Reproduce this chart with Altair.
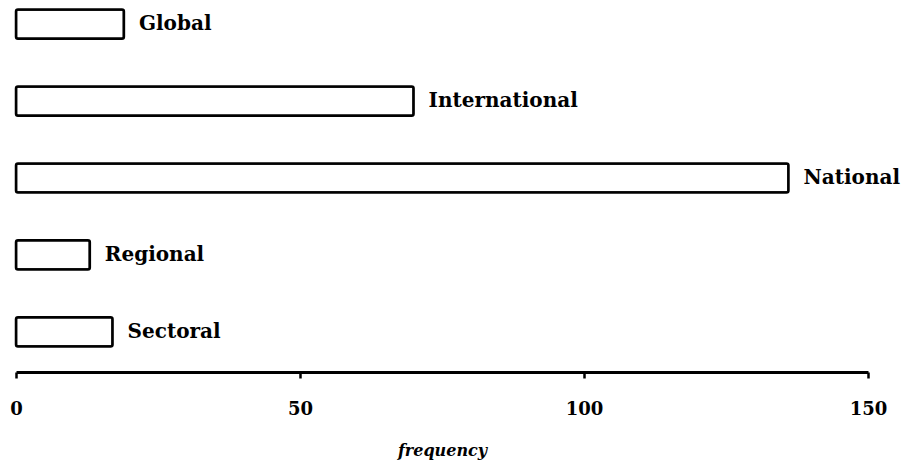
import altair as alt
import pandas as pd

categories = ["Global", "International", "National", "Regional", "Sectoral"]
frequency = [19, 70, 136, 13, 17]
x_ticks = [0, 50, 100, 150]

df = pd.DataFrame({"category": categories, "frequency": frequency})

FONT = "DejaVu Serif"

y_enc = alt.Y(
    "category:N",
    sort=categories,
    axis=None,
    scale=alt.Scale(paddingInner=0.62, paddingOuter=0.02),
)

bars = alt.Chart(df).mark_bar(
    fill="white",
    stroke="black",
    strokeWidth=2.5,
    cornerRadius=2,
).encode(
    x=alt.X(
        "frequency:Q",
        scale=alt.Scale(domain=[0, 150], nice=False),
        axis=alt.Axis(
            values=x_ticks,
            title="frequency",
            titleFont=FONT,
            titleFontStyle="italic",
            titleFontWeight="bold",
            titleFontSize=16,
            titleColor="black",
            titlePadding=24,
            labelFont=FONT,
            labelFontWeight="bold",
            labelFontSize=18,
            labelColor="black",
            labelPadding=22,
            domainColor="black",
            domainWidth=3,
            tickColor="black",
            tickWidth=2.5,
            tickSize=6,
            grid=False,
            offset=24,
            labelFlush=False,
        ),
    ),
    y=y_enc,
)

labels = alt.Chart(df).mark_text(
    align="left",
    baseline="middle",
    dx=15,
    font=FONT,
    fontWeight="bold",
    fontSize=20,
    color="black",
).encode(
    x="frequency:Q",
    y=y_enc,
    text="category:N",
)

chart = (bars + labels).properties(
    width=852,
    height=340,
    autosize=alt.AutoSizeParams(type="none"),
    padding={"left": 8, "top": 0, "right": 34, "bottom": 113},
    background="white",
).configure_view(strokeOpacity=0, strokeWidth=0)

chart.save("out.html", embed_options={"renderer": "svg", "actions": False})
